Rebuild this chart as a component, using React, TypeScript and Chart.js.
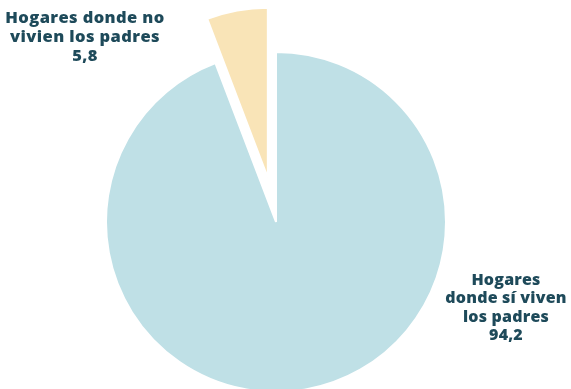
import React, { useEffect, useRef } from "react";
import { Chart, registerables } from "chart.js";

Chart.register(...registerables);

const categories = ["Hogares donde sí viven los padres", "Hogares donde no vivien los padres"];
const values = [94.2, 5.8];
const colors = ["#bfe0e6", "#f9e4b7"];
const labelLines = [
  ["Hogares", "donde sí viven", "los padres", "94,2"],
  ["Hogares donde no", "vivien los padres", "5,8"],
];

const EXPLODE = 45;
const LABEL_POS = [
  { x: 506, y: 280 },
  { x: 85, y: 18 },
];

const explodePlugin = {
  id: "explode",
  beforeDatasetsDraw(chart: any) {
    const ctx = chart.ctx;
    const meta = chart.getDatasetMeta(0);
    meta.data.forEach((arc: any, i: number) => {
      ctx.save();
      if (i === 1) {
        const mid = (arc.startAngle + arc.endAngle) / 2;
        ctx.translate(Math.cos(mid) * EXPLODE, Math.sin(mid) * EXPLODE);
      }
      arc.draw(ctx);
      ctx.restore();
    });
    return false;
  },
};

const labelPlugin = {
  id: "sliceLabels",
  afterDraw(chart: any) {
    const ctx = chart.ctx;
    ctx.save();
    ctx.fillStyle = "#1e4a5a";
    ctx.textAlign = "center";
    ctx.textBaseline = "middle";
    labelLines.forEach((lines, i) => {
      const p = LABEL_POS[i];
      const lh = i === 0 ? 18.5 : 19;
      ctx.font = i === 0 ? "800 16px 'Open Sans'" : "800 16.5px 'Open Sans'";
      (ctx as any).letterSpacing = i === 0 ? "0.2px" : "0.4px";
      lines.forEach((t, j) => ctx.fillText(t, p.x, p.y + j * lh));
    });
    ctx.restore();
  },
};

export default function App() {
  const ref = useRef<HTMLCanvasElement>(null);
  useEffect(() => {
    if (!ref.current) return;
    const chart = new Chart(ref.current, {
      type: "pie",
      data: {
        labels: categories,
        datasets: [
          {
            data: values,
            backgroundColor: colors,
            borderColor: "#ffffff",
            borderWidth: 2,
          },
        ],
      },
      options: {
        responsive: false,
        animation: false,
        radius: 170,
        layout: { padding: { left: 0, right: 19, top: 55, bottom: 0 } },
        plugins: {
          legend: { display: false },
          tooltip: { enabled: false },
        },
      } as any,
      plugins: [explodePlugin, labelPlugin],
    });
    return () => chart.destroy();
  }, []);
  return (
    <div style={{ position: "fixed", left: 0, top: 0, width: 571, height: 389, background: "#fff" }}>
      <canvas ref={ref} width={571} height={389} />
    </div>
  );
}
